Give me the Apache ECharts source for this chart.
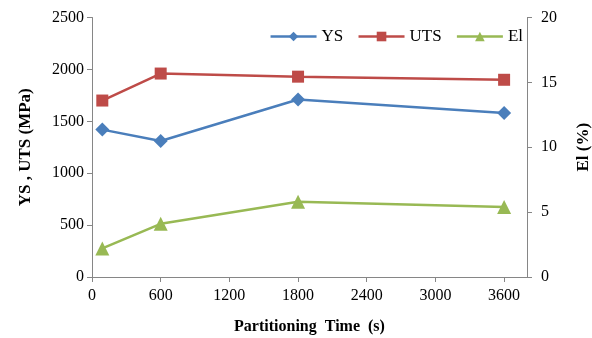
<!DOCTYPE html>
<html><head><meta charset="utf-8">
<script src="https://cdn.jsdelivr.net/npm/echarts@6/dist/echarts.min.js"></script>
<style>html,body{margin:0;padding:0;background:#fff}#c{width:592px;height:338px}</style>
</head><body><div id="c"></div>
<script>
const times = [90, 600, 1800, 3600];
const ys = [1420, 1310, 1710, 1580];
const uts = [1700, 1960, 1930, 1900];
const el = [2.2, 4.1, 5.8, 5.4];
const xTicks = [0, 600, 1200, 1800, 2400, 3000, 3600];

const F = "'Liberation Serif', 'Times New Roman', serif";
const axisCol = '#868686';
const pairs = (a) => times.map((t, i) => [t, a[i]]);
const plain = (v) => String(v);

const chart = echarts.init(document.getElementById('c'));
chart.setOption({
  animation: false,
  grid: {left: 92, right: 65, top: 17.5, bottom: 61, outerBoundsMode: 'none', containLabel: false},
  legend: {
    right: 64, top: 23, itemWidth: 46, itemHeight: 12, itemGap: 14,
    lineStyle: {width: 2.5},
    textStyle: {fontFamily: F, fontSize: 17, color: '#000'},
    data: ['YS', 'UTS', 'El']
  },
  xAxis: {
    type: 'value', min: 0, max: 3800, interval: 600,
    name: 'Partitioning  Time  (s)', nameLocation: 'middle', nameGap: 42,
    nameTextStyle: {fontFamily: F, fontSize: 16, fontWeight: 'bold', color: '#000'},
    axisLine: {lineStyle: {color: axisCol}},
    axisTick: {show: true, length: 5, lineStyle: {color: axisCol}, customValues: xTicks},
    axisLabel: {fontFamily: F, fontSize: 16, color: '#000', margin: 11, customValues: xTicks, formatter: plain},
    splitLine: {show: false}
  },
  yAxis: [{
    type: 'value', min: 0, max: 2500, interval: 500, position: 'left',
    name: 'YS , UTS (MPa)', nameLocation: 'middle', nameGap: 58,
    nameTextStyle: {fontFamily: F, fontSize: 17, fontWeight: 'bold', color: '#000'},
    axisLine: {show: true, lineStyle: {color: axisCol}},
    axisTick: {show: true, length: 5, lineStyle: {color: axisCol}},
    axisLabel: {fontFamily: F, fontSize: 16, color: '#000', margin: 8, formatter: plain},
    splitLine: {show: false}
  }, {
    type: 'value', min: 0, max: 20, interval: 5, position: 'right',
    name: 'El (%)', nameLocation: 'middle', nameGap: 48,
    nameTextStyle: {fontFamily: F, fontSize: 17, fontWeight: 'bold', color: '#000'},
    axisLine: {show: true, lineStyle: {color: axisCol}},
    axisTick: {show: true, length: 5, lineStyle: {color: axisCol}},
    axisLabel: {fontFamily: F, fontSize: 16, color: '#000', margin: 14, formatter: plain},
    splitLine: {show: false}
  }],
  series: [
    {name: 'YS', type: 'line', yAxisIndex: 0, data: pairs(ys), symbol: 'diamond', symbolSize: 14,
     lineStyle: {width: 2.5, color: '#4A7EBB'}, itemStyle: {color: '#4A7EBB'}},
    {name: 'UTS', type: 'line', yAxisIndex: 0, data: pairs(uts), symbol: 'rect', symbolSize: 12,
     lineStyle: {width: 2.5, color: '#BE4B48'}, itemStyle: {color: '#BE4B48'}},
    {name: 'El', type: 'line', yAxisIndex: 1, data: pairs(el), symbol: 'triangle', symbolSize: 14,
     lineStyle: {width: 2.5, color: '#98B954'}, itemStyle: {color: '#98B954'}}
  ]
});
</script></body></html>
